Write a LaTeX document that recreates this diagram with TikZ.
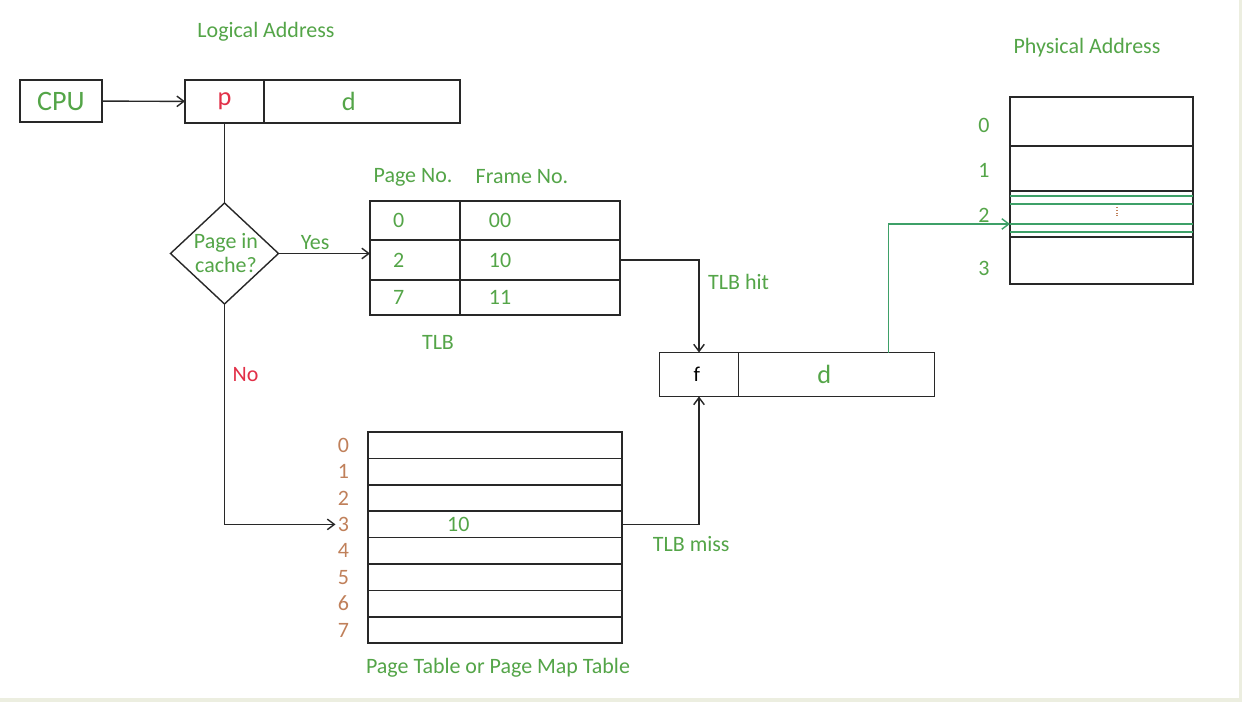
\documentclass[tikz,border=0pt]{standalone}
\usepackage{fontspec}
\setmainfont{Carlito}
\usepackage{tikz}
\usetikzlibrary{arrows.meta,calc,positioning,shapes.geometric}
\definecolor{txtgreen}{RGB}{84,165,72}
\definecolor{addrred}{RGB}{226,48,72}
\definecolor{idxbrown}{RGB}{192,128,90}
\definecolor{linegreen}{RGB}{62,160,104}
\definecolor{linegray}{RGB}{40,40,40}
\definecolor{framegray}{RGB}{236,238,224}
\tikzset{%
	block/.style    = {draw=linegray, rectangle, line width=0.8pt, inner sep=0pt, outer sep=0pt},
	txt/.style      = {text=txtgreen, font=\fontsize{12.5}{14}\selectfont, inner sep=2pt}, % green text
	big/.style      = {font=\fontsize{15}{18}\selectfont},
	idx/.style      = {text=idxbrown, font=\fontsize{12.5}{14}\selectfont, inner sep=1pt}, % row numbers
	cellp/.style    = {block, txt, minimum width=1.8cm, inner xsep=0.46cm, text width=0.88cm, align=left},
	cellf/.style    = {block, txt, minimum width=3.2cm, inner xsep=0.58cm, text width=2.04cm, align=left},
	ptcell/.style   = {block, minimum width=5.08cm, minimum height=0.528cm},
	memcell/.style  = {block, minimum width=3.66cm},
}
\begin{document}
\begin{tikzpicture}[x=0.02cm, y=-0.02cm, >={Straight Barb[length=4pt,width=6pt]}, line width=0.8pt, draw=linegray]
		\useasboundingbox (0,0) rectangle (1242,702);
		\fill[framegray] (0,0) rectangle (1242,702);
		\fill[white] (0,0) rectangle (1239,698);
		% logical address
		\node[block, text=txtgreen, minimum width=1.64cm, minimum height=0.84cm, font=\fontsize{16}{18}\selectfont] (cpu) at (61,101) {CPU};
		\node[block, big, text=addrred, minimum width=1.58cm, minimum height=0.86cm] (lap) at (224.5,101.5) {p};
		\node[block, big, text=txtgreen, minimum width=3.92cm, minimum height=0.86cm, inner xsep=1.56cm, text width=0.8cm, align=left, right=0pt of lap] (lad) {d};
		\node[txt] (latitle) at (266,32) {Logical Address};
		\node[block, shape=diamond, minimum width=2.16cm, minimum height=2.02cm] (dia) at (224.5,253.5) {};
		\node[txt, align=center, inner sep=0pt] (diatext) at (226,253) {Page in\\cache?};
		% TLB
		\foreach \r/\ya/\yb/\pg/\fr in {1/201/240/0/00, 2/240/280/2/10, 3/280/315/7/11} {
			\node[cellp, minimum height={(\yb-\ya)*0.02cm}] (tlbp\r) at (415,{(\ya+\yb)/2}) {\pg};
			\node[cellf, minimum height={(\yb-\ya)*0.02cm}, right=0pt of tlbp\r] (tlbf\r) {\fr};
		}
		\node[txt] (pgno) at (413,177) {Page No.};
		\node[txt] (frno) at (522,177) {Frame No.};
		\node[txt] (tlbtitle) at (438,342) {TLB};
		% physical address
		\node[block, minimum width=1.58cm, minimum height=0.88cm, inner xsep=0.68cm, text width=0.22cm, align=left, font=\fontsize{12}{14}\selectfont] (fnum) at (699,374.5) {f};
		\node[block, big, text=txtgreen, minimum width=3.92cm, minimum height=0.88cm, inner xsep=1.58cm, text width=0.76cm, align=left, right=0pt of fnum] (fdd) {d};
		% page table
		\foreach \i in {0,...,7} {
			\node[ptcell] (pt\i) at (495,{445.2+26.4*\i}) {};
			\node[idx, left=0.33cm of pt\i] (ptl\i) {\i};
		}
		\node[txt, right=1.5cm of pt3.west] (ptval) {10};
		\node[txt] (pttitle) at (498,668) {Page Table or Page Map Table};
		% memory
		\node[memcell, minimum height=0.98cm] (mem0) at (1101.5,121.5) {};
		\node[memcell, minimum height=0.90cm, below=0pt of mem0] (mem1) {};
		\node[memcell, minimum height=0.92cm, below=0pt of mem1] (mem2) {};
		\node[memcell, minimum height=0.94cm, below=0pt of mem2] (mem3) {};
		\foreach \i/\y in {0/125,1/170,2/215,3/268}
			\node[txt] (meml\i) at (984,\y) {\i};
		\foreach \o in {0.1,0.26,0.66,0.82}
			\draw[linegreen] ([yshift=-\o cm]mem2.north west) -- ([yshift=-\o cm]mem2.north east);
		\draw[idxbrown, line width=0.6pt, densely dotted] (1117,207) -- (1117,217);
		\node[txt] (patitle) at (1087,48) {Physical Address};
		% connectors
		\draw[->] (cpu) -- (lap);
		\draw (lap) -- (dia);
		\draw[->] (dia) -- node[txt, above, pos=0.4] {Yes} (dia -| tlbp1.west);
		\draw[->] (dia) |- node[txt, text=addrred, right=0.08cm, pos=0.16] {No} (ptl3);
		\draw[->] (tlbf2.east) -| node[txt, right=0.1cm, pos=0.62] {TLB hit} (fnum.north);
		\draw[->] (pt3) -| node[txt, below=0.15cm, pos=0.45] {TLB miss} (fnum.south);
		\draw[->, linegreen] ([xshift=1.04cm]fdd.north) |- ([yshift=-0.2cm]mem2.west);
		
		\end{tikzpicture}
\end{document}
